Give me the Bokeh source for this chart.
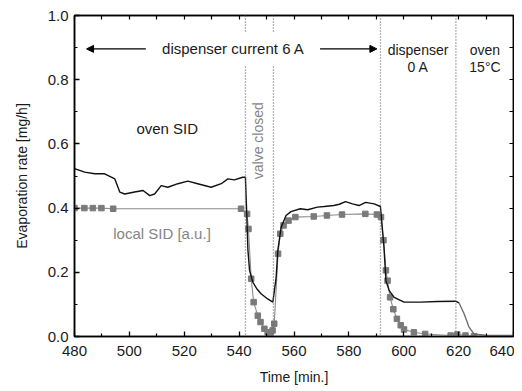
import math
from bokeh.plotting import figure
from bokeh.models import (Range1d, LinearAxis, Span, Label, Arrow, NormalHead,
                          FixedTicker, NumeralTickFormatter)
from bokeh.embed import file_html
from bokeh.resources import INLINE

# ---------------- data ----------------
x_ticks = [480, 500, 520, 540, 560, 580, 600, 620, 640]
x_minor = [490, 510, 530, 550, 570, 590, 610, 630]
y_ticks = [0.0, 0.2, 0.4, 0.6, 0.8, 1.0]
y_minor = [0.1, 0.3, 0.5, 0.7, 0.9]

oven_t = [480, 483.7, 487.4, 491, 494.7, 496.5, 498.3, 501.9, 505, 507.4, 509.2,
          511.6, 514, 517.7, 521.3, 524.9, 529.8, 533.5, 535.9, 538.3, 541.3,
          542.3, 542.7, 543.2, 543.8, 545, 546.5, 548, 550.4, 552.3,
          553.5, 554.1, 555.3, 557.1, 558.9, 562.3, 565, 568.5, 571, 574.5,
          576.5, 578.8, 581.3, 583.7, 586.1, 589.2, 591.5,
          592.8, 593.5, 594.7, 596.5, 600.1, 606.2, 612.3, 618.9, 620.1]
oven_v = [0.523, 0.512, 0.507, 0.507, 0.491, 0.45, 0.444, 0.45, 0.455, 0.439, 0.444,
          0.47, 0.465, 0.476, 0.484, 0.476, 0.465, 0.476, 0.491, 0.488, 0.496,
          0.496, 0.40, 0.27, 0.206, 0.169, 0.148, 0.133, 0.117, 0.107,
          0.185, 0.268, 0.34, 0.377, 0.389, 0.398, 0.395, 0.403, 0.405, 0.408,
          0.412, 0.42, 0.413, 0.408, 0.418, 0.413, 0.405,
          0.278, 0.174, 0.143, 0.122, 0.107, 0.107, 0.109, 0.11, 0.105]

oven_cool_t = [620.1, 622.0, 623.8, 625.6, 630.4, 640.0]
oven_cool_v = [0.105, 0.071, 0.029, 0.008, 0.003, 0.003]

local_t = [480, 483.6, 486.7, 489.8, 494.1, 540.7, 542.9, 543.4, 544.4, 545.3,
           546.8, 547.8, 549.2, 550.4, 551.4, 552.2, 552.8, 554.2, 555, 556.2,
           558, 560.5, 567.2, 572, 577.5, 586, 590.2, 591.7, 592.6, 593.5,
           594.1, 595, 596.2, 597.5, 598.9, 600.1, 603.7, 607.8, 617.1, 619.5,
           622.5, 625.6]
local_v = [0.40, 0.40, 0.40, 0.40, 0.398, 0.398, 0.382, 0.335, 0.18, 0.107,
           0.065, 0.045, 0.024, 0.013, 0.01, 0.019, 0.04, 0.258, 0.32, 0.346,
           0.361, 0.372, 0.374, 0.377, 0.38, 0.382, 0.38, 0.372, 0.30, 0.206,
           0.174, 0.122, 0.085, 0.055, 0.035, 0.022, 0.013, 0.008, 0.003, 0.006,
           0.003, 0.001]

event_times = [542.3, 552.5, 591.5, 619.0]

# ---------------- figure ----------------
FONT = "Liberation Sans"
TXT = "#1a1a1a"
GRAY = "#858585"

p = figure(width=514, height=391, x_range=Range1d(480, 640), y_range=Range1d(0, 1),
           output_backend="svg", toolbar_location=None,
           min_border_left=74, min_border_right=1, min_border_top=15, min_border_bottom=55,
           x_axis_label="Time [min.]", y_axis_label="Evaporation rate [mg/h]")
p.grid.visible = False
p.outline_line_color = "black"
p.outline_line_width = 1.5
p.background_fill_color = "white"
p.border_fill_color = "white"


def style_axis(ax):
    ax.major_tick_in = 5
    ax.major_tick_out = 0
    ax.minor_tick_in = 3
    ax.minor_tick_out = 0
    ax.axis_line_color = "black"
    ax.axis_line_width = 1.5
    ax.major_tick_line_width = 1.3
    ax.minor_tick_line_width = 1.2
    ax.minor_tick_line_color = "black"
    ax.major_label_text_font = FONT
    ax.major_label_text_color = TXT
    ax.major_label_text_font_size = "15px"
    ax.axis_label_text_font = FONT
    ax.axis_label_text_font_style = "normal"
    ax.axis_label_text_color = TXT
    ax.axis_label_text_font_size = "14px"


xa = p.xaxis[0]
ya = p.yaxis[0]
style_axis(xa)
style_axis(ya)
xa.ticker = FixedTicker(ticks=x_ticks, minor_ticks=x_minor)
ya.ticker = FixedTicker(ticks=y_ticks, minor_ticks=y_minor)
xa.major_label_standoff = 9
xa.axis_label_standoff = 10
ya.major_label_standoff = 6
ya.axis_label_standoff = 15
ya.formatter = NumeralTickFormatter(format="0.0")

# mirrored tick marks on top and right (no labels: ticks drawn as minor ticks)
top = LinearAxis(axis_label=None, ticker=FixedTicker(ticks=[], minor_ticks=x_ticks + x_minor))
style_axis(top)
top.minor_tick_in = 4
p.add_layout(top, "above")
right = LinearAxis(axis_label=None, ticker=FixedTicker(ticks=[], minor_ticks=y_ticks + y_minor))
style_axis(right)
right.minor_tick_in = 4
p.add_layout(right, "right")

# event lines
for t in event_times:
    p.add_layout(Span(location=t, dimension="height", line_color="#6a6a6a",
                      line_dash="1 2", line_width=1.3))

# data
p.line(local_t, local_v, line_color="#8c8c8c", line_width=1.1)
p.scatter(local_t, local_v, marker="square", size=5.5, fill_color="#7a7a7a",
          line_color="#7a7a7a")
p.line(oven_t, oven_v, line_color="#111111", line_width=1.4)
p.line(oven_cool_t, oven_cool_v, line_color="#6e6e6e", line_width=1.4)

# annotations
p.add_layout(Label(x=537.9, y=0.896, text="dispenser current 6 A", text_align="center",
                   text_baseline="middle", text_font=FONT, text_font_size="15px",
                   text_color=TXT, background_fill_color="white", padding=8))
p.add_layout(Arrow(end=NormalHead(size=7, fill_color="black", line_color="black"),
                   x_start=506.0, y_start=0.896, x_end=484.4, y_end=0.896,
                   line_color="black", line_width=1.2))
p.add_layout(Arrow(end=NormalHead(size=7, fill_color="black", line_color="black"),
                   x_start=569.5, y_start=0.896, x_end=590.2, y_end=0.896,
                   line_color="black", line_width=1.2))

for (lx, ly, txt) in [(605.2, 0.891, "dispenser"), (605.2, 0.839, "0 A"),
                      (629.6, 0.891, "oven"), (629.6, 0.839, "15°C")]:
    p.add_layout(Label(x=lx, y=ly, text=txt, text_align="center", text_baseline="middle",
                       text_font=FONT, text_font_size="14px", text_color=TXT))

p.add_layout(Label(x=513.8, y=0.648, text="oven SID", text_align="center",
                   text_baseline="middle", text_font=FONT, text_font_size="15px",
                   text_color=TXT))
p.add_layout(Label(x=511.9, y=0.32, text="local SID [a.u.]", text_align="center",
                   text_baseline="middle", text_font=FONT, text_font_size="15px",
                   text_color=GRAY))
p.add_layout(Label(x=546.8, y=0.61, text="valve closed", text_align="center",
                   text_baseline="middle", angle=math.pi / 2, text_font=FONT,
                   text_font_size="14px", text_color=GRAY))

open("out.html", "w").write(file_html(p, INLINE))
